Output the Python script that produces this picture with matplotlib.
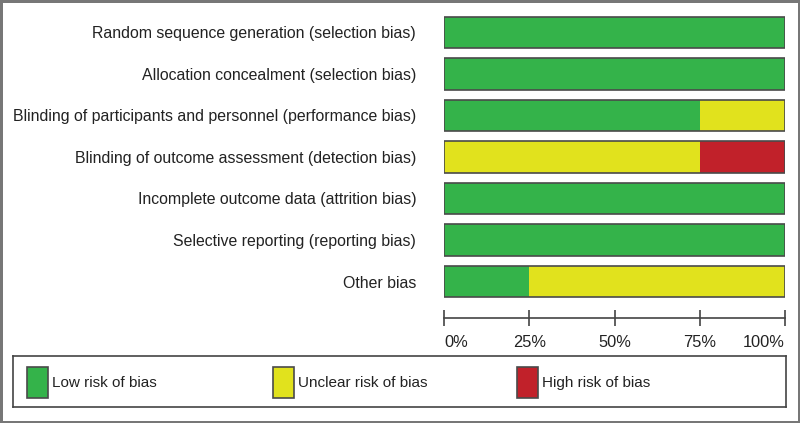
import matplotlib.pyplot as plt
from matplotlib.patches import Rectangle

plt.rcParams['font.family'] = ['Liberation Sans', 'DejaVu Sans']

domains = ['Random sequence generation (selection bias)',
           'Allocation concealment (selection bias)',
           'Blinding of participants and personnel (performance bias)',
           'Blinding of outcome assessment (detection bias)',
           'Incomplete outcome data (attrition bias)',
           'Selective reporting (reporting bias)',
           'Other bias']
low = [100, 100, 75, 0, 100, 100, 25]
unclear = [0, 0, 25, 75, 0, 0, 75]
high = [0, 0, 0, 25, 0, 0, 0]

categories = ['Low risk of bias', 'Unclear risk of bias', 'High risk of bias']
colors = ['#34b34a', '#e1e21d', '#c1212a']
edge = '#4a4a4a'
tick_vals = [0, 25, 50, 75, 100]
tick_labels = ['0%', '25%', '50%', '75%', '100%']

W, H = 800, 423
fig = plt.figure(figsize=(W / 100, H / 100), dpi=100)
fig.patch.set_edgecolor('#777777')
fig.patch.set_linewidth(2.5)

ax = fig.add_axes([444 / W, 1 - 302.25 / H, 341 / W, 290.5 / H])
rows = range(len(domains))
left = [0] * len(domains)
for vals, c in zip([low, unclear, high], colors):
    ax.barh(rows, vals, left=left, height=0.75, color=c, linewidth=0)
    left = [a + b for a, b in zip(left, vals)]
# outline each full bar
ax.barh(rows, [100] * len(domains), height=0.75, fill=False,
        edgecolor=edge, linewidth=1.2)

ax.set_xlim(0, 100)
ax.set_ylim(6.5, -0.5)
ax.set_yticks(list(rows))
ax.set_yticklabels(domains, fontsize=11.4, color='#222222')
ax.tick_params(axis='y', length=0, pad=20)
ax.set_xticks(tick_vals)
ax.set_xticklabels([])
ax.tick_params(axis='x', direction='inout', length=12, width=1.2, color='#444444')
# tick labels placed by hand so the end ones stay inside the bar span
for v, lab in zip(tick_vals, tick_labels):
    ha = 'left' if v == tick_vals[0] else ('right' if v == tick_vals[-1] else 'center')
    ax.annotate(lab, xy=(v, 0), xycoords=('data', 'axes fraction'),
                xytext=(0, -29), textcoords='offset points',
                ha=ha, va='center', fontsize=11.8, color='#222222')
for s in ['top', 'right', 'left']:
    ax.spines[s].set_visible(False)
ax.spines['bottom'].set_position(('outward', 11.5))
ax.spines['bottom'].set_color('#444444')
ax.spines['bottom'].set_linewidth(1.2)
ax.patch.set_alpha(0)

# legend box
lg = fig.add_axes([13 / W, 1 - 407 / H, 773 / W, 51 / H])
lg.set_xlim(0, 773)
lg.set_ylim(51, 0)
lg.set_xticks([])
lg.set_yticks([])
for s in lg.spines.values():
    s.set_color('#444444')
    s.set_linewidth(1.2)
for i, (lab, c) in enumerate(zip(categories, colors)):
    x0 = [14, 260, 504][i]
    lg.add_patch(Rectangle((x0, 11), 21, 31, facecolor=c, edgecolor=edge, linewidth=1.2))
    lg.text(x0 + 25, 27, lab, fontsize=11, va='center', ha='left', color='#222222')

fig.savefig('out.png', dpi=100, edgecolor=fig.get_edgecolor())
